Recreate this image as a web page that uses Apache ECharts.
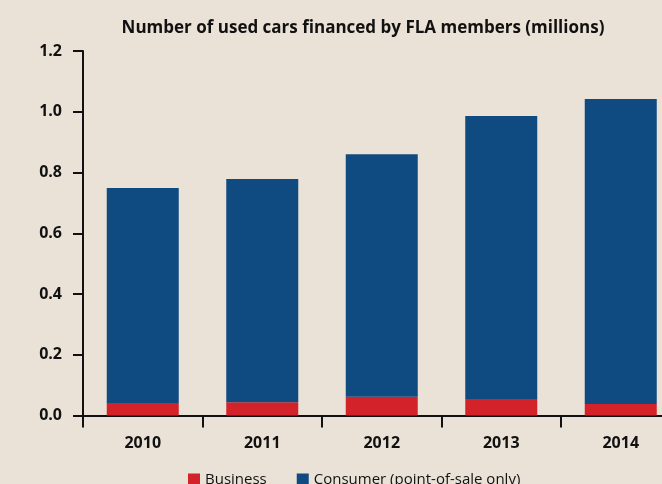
<!DOCTYPE html>
<html>
<head>
<meta charset="utf-8">
<script src="https://cdn.jsdelivr.net/npm/echarts@6/dist/echarts.min.js"></script>
<style>
html,body{margin:0;padding:0;background:#EAE2D7;}
#c{width:662px;height:484px;}
</style>
</head>
<body>
<div id="c"></div>
<script>
const categories = ['2010', '2011', '2012', '2013', '2014'];
const business = [0.041, 0.044, 0.062, 0.054, 0.038];
const consumer = [0.708, 0.735, 0.798, 0.932, 1.004];
const yTicks = [0, 0.2, 0.4, 0.6, 0.8, 1.0, 1.2];

const FONT = '"Open Sans", "Noto Sans", sans-serif';
const chart = echarts.init(document.getElementById('c'));
chart.setOption({
  backgroundColor: '#EAE2D7',
  animation: false,
  title: {
    text: 'Number of used cars financed by FLA members (millions)',
    left: 358, top: 15, textAlign: 'center',
    textStyle: {fontFamily: FONT, fontWeight: 'bold', fontSize: 17, color: '#111'}
  },
  legend: {
    left: 183, top: 467, itemWidth: 12, itemHeight: 12, itemGap: 30,
    icon: 'rect',
    textStyle: {fontFamily: FONT, fontSize: 15, color: '#111'},
    data: ['Business', 'Consumer (point-of-sale only)']
  },
  grid: {left: 83, top: 51, width: 597.5, height: 364.5, containLabel: false, outerBoundsMode: 'none'},
  xAxis: {
    type: 'category', data: categories,
    axisLine: {lineStyle: {color: '#111', width: 2}},
    axisTick: {show: true, length: 12, lineStyle: {color: '#111', width: 2}, alignWithLabel: false},
    axisLabel: {fontFamily: FONT, fontWeight: 'bold', fontSize: 16, color: '#111', margin: 20}
  },
  yAxis: {
    type: 'value', min: 0, max: 1.2, interval: 0.2,
    axisLine: {show: true, lineStyle: {color: '#111', width: 2}},
    axisTick: {show: true, length: 10, lineStyle: {color: '#111', width: 2}},
    splitLine: {show: false},
    axisLabel: {fontFamily: FONT, fontWeight: 'bold', fontSize: 16, color: '#111', margin: 21,
      formatter: v => { const t = yTicks.find(x => Math.abs(x - v) < 1e-9); return (t !== undefined ? t : v).toFixed(1); }}
  },
  series: [
    {name: 'Business', type: 'bar', stack: 't', data: business, barWidth: 72,
     itemStyle: {color: '#D3222A'}},
    {name: 'Consumer (point-of-sale only)', type: 'bar', stack: 't', data: consumer, barWidth: 72,
     itemStyle: {color: '#0F4A80'}}
  ]
});
</script>
</body>
</html>
